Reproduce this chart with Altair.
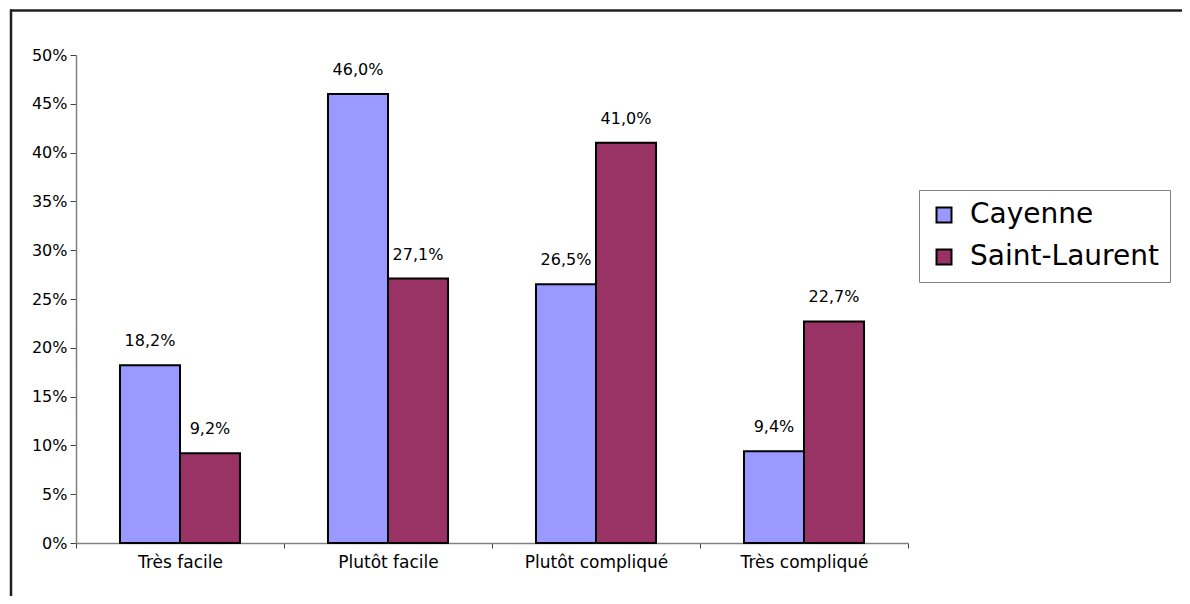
import altair as alt
import pandas as pd

categories = ["Très facile", "Plutôt facile", "Plutôt compliqué", "Très compliqué"]
series = ["Cayenne", "Saint-Laurent"]
cayenne = [0.182, 0.460, 0.265, 0.094]
saint_laurent = [0.092, 0.271, 0.410, 0.227]
colors = ["#9999FF", "#993366"]
y_ticks = [0, 0.05, 0.10, 0.15, 0.20, 0.25, 0.30, 0.35, 0.40, 0.45, 0.50]

rows = []
for i, c in enumerate(categories):
    for s, vals in zip(series, [cayenne, saint_laurent]):
        v = vals[i]
        rows.append({"cat": c, "serie": s, "val": v,
                     "lab": f"{v*100:.1f}%".replace(".", ",")})
df = pd.DataFrame(rows)

FONT = "DejaVu Sans"

x_enc = alt.X("cat:N", sort=categories, title=None,
              scale=alt.Scale(paddingInner=0, paddingOuter=0),
              axis=alt.Axis(labelAngle=0, labelFontSize=17, labelFont=FONT,
                            labelColor="black", tickBand="extent", tickSize=5,
                            tickColor="#404040", domainColor="#808080",
                            labelPadding=6, domainWidth=1.5))
y_enc = alt.Y("val:Q", title=None,
              scale=alt.Scale(domain=[0, 0.5], nice=False),
              axis=alt.Axis(values=y_ticks, format=".0%", grid=False,
                            labelFontSize=16, labelFont=FONT, labelColor="black",
                            tickSize=6, tickColor="#404040", domainColor="#808080",
                            labelPadding=3, domainWidth=1.5))
xo = alt.XOffset("serie:N", sort=series,
                 scale=alt.Scale(paddingInner=0, paddingOuter=0.733))

bars = alt.Chart(df).mark_bar(stroke="black", strokeWidth=2).encode(
    x=x_enc, y=y_enc, xOffset=xo,
    color=alt.Color("serie:N", sort=series,
                    scale=alt.Scale(domain=series, range=colors),
                    legend=alt.Legend(title=None, orient="none", legendX=843, legendY=135,
                                      labelFontSize=28, labelFont=FONT, labelColor="black",
                                      labelLimit=500,
                                      symbolType="square", symbolSize=225,
                                      symbolStrokeColor="black", symbolStrokeWidth=2,
                                      symbolOpacity=1, strokeColor="#808080",
                                      padding=11, rowPadding=14, labelOffset=12,
                                      fillColor="white")),
)

labels = alt.Chart(df).mark_text(font=FONT, fontSize=16, color="black",
                                 baseline="alphabetic", dy=-19).encode(
    x=alt.X("cat:N", sort=categories), xOffset=xo, y="val:Q", text="lab:N")

frame_df = pd.DataFrame({"k": [0]})
top_line = alt.Chart(frame_df).mark_rule(color="#202020", strokeWidth=2.5).encode(
    x=alt.value(-66), x2=alt.value(1200), y=alt.value(-44.5))
left_line = alt.Chart(frame_df).mark_rule(color="#202020", strokeWidth=2.5).encode(
    x=alt.value(-65), y=alt.value(-45.5), y2=alt.value(600))

chart = alt.layer(bars, labels, top_line, left_line).properties(
    width=832, height=488,
    background="white",
    padding={"left": 68, "top": 47, "right": 274, "bottom": 53},
    autosize=alt.AutoSizeParams(type="none"),
).configure_view(strokeWidth=0, stroke="transparent")

chart.save("out.html", embed_options={"renderer": "svg", "actions": False})
